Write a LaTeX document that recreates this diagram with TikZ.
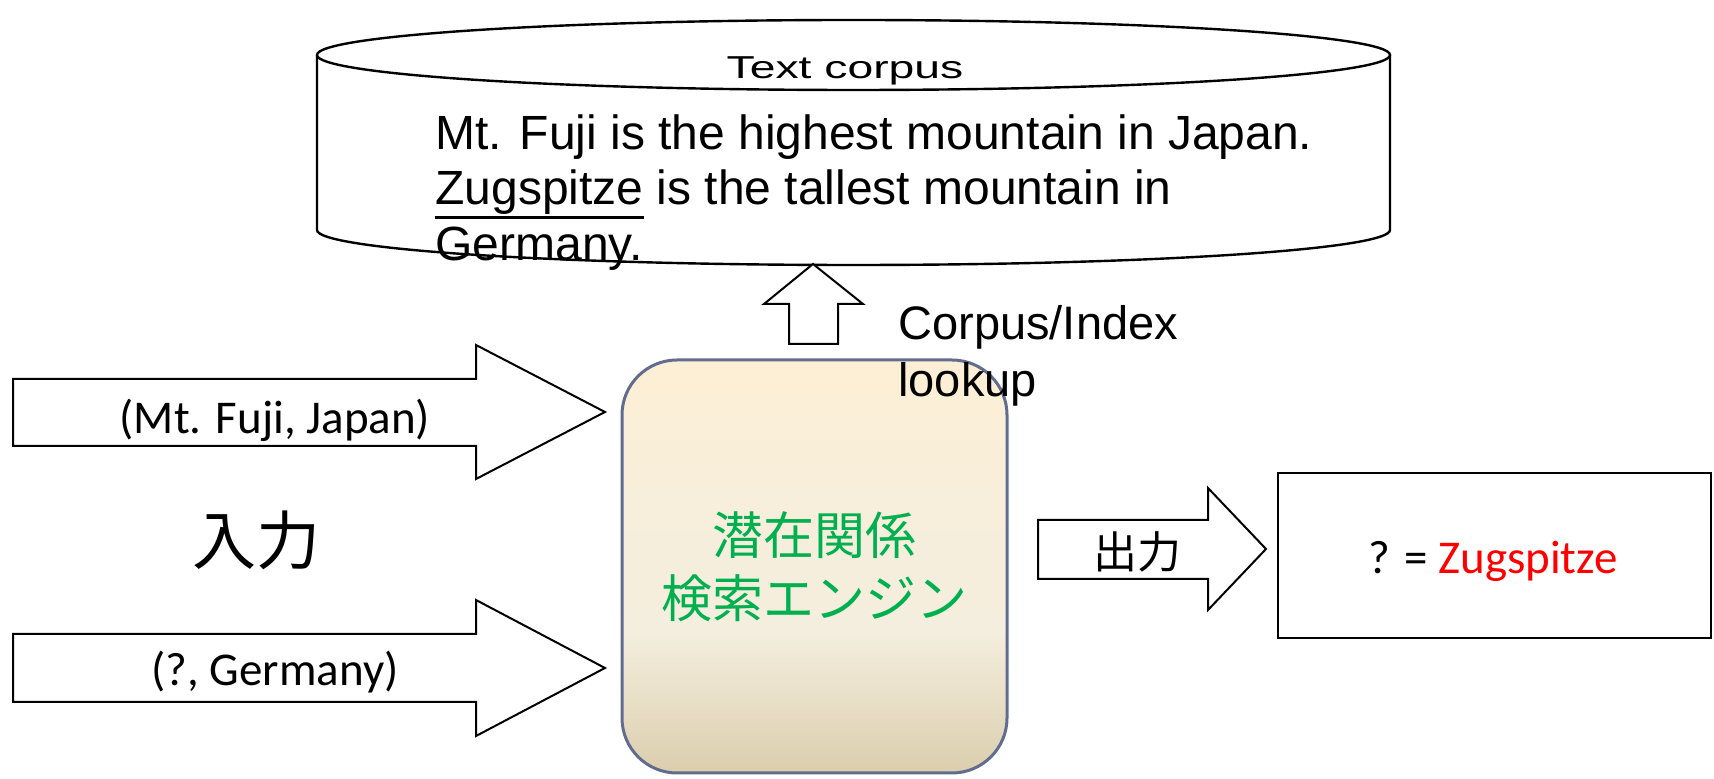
\documentclass[tikz,border=0pt]{standalone}
\usepackage{fontspec}
\usepackage{graphicx}
\setmainfont{Liberation Sans}
\newfontfamily\calib{Carlito}
\newfontfamily\jp{Noto Sans CJK JP}
\definecolor{enggreen}{RGB}{0,176,80}
\definecolor{engT}{RGB}{253,239,213}
\definecolor{engM}{RGB}{244,238,222}
\definecolor{engB}{RGB}{219,206,174}
\definecolor{engline}{RGB}{98,108,142}
\definecolor{ansred}{RGB}{255,0,0}
\pgfdeclareverticalshading{engshade}{100bp}{color(0bp)=(engB); color(25bp)=(engB); color(42bp)=(engM); color(60bp)=(engM!60!engT); color(75bp)=(engT); color(100bp)=(engT)}
\newcommand\hs[2]{\scalebox{#1}[1]{#2}}
\newcommand\myul[1]{\setbox0\hbox{#1}\rlap{\rule[-7pt]{\wd0}{1.4pt}}\box0{}}
\begin{document}
\begin{tikzpicture}[x=0.5pt,y=-0.5pt,
  outl/.style={draw=black,line width=1pt,line join=miter,fill=white},
  cyl/.style={draw=black,line width=1.2pt},
  txt/.style={inner sep=0pt,anchor=base},
  corpusfont/.style={font=\fontsize{24}{28}\selectfont},
  lookfont/.style={font=\fontsize{23.5}{28}\selectfont},
  calfont/.style={font=\calib\fontsize{23.5}{28}\selectfont},
  ansfont/.style={font=\calib\fontsize{23.5}{28}\selectfont}]
\useasboundingbox (0,0) rectangle (1714,779);

% text corpus cylinder
\draw[cyl] (317,55) -- (317,230) arc[start angle=180,end angle=0,x radius=536.5,y radius=35] -- (1390,55);
\draw[cyl] (853.5,55) ellipse[x radius=536.5,y radius=35];
\node[txt,font=\fontsize{15.85}{19}\selectfont] (tc) at (845,79) {\hs{1.46}{Text corpus}};
\node[txt,corpusfont,anchor=base west] (s1) at (435,150) {Mt. Fuji is the highest mountain in Japan.};
\node[txt,corpusfont,anchor=base west] (s2) at (435,205) {\myul{Zugspitze} is the tallest mountain in};
\node[txt,corpusfont,anchor=base west] (s3) at (435,261) {Germany.};

% up arrow
\coordinate (uptip) at (813,264);
\draw[outl] (uptip) -- (863,304) -- (838,304) -- (838,344) -- (789,344) -- (789,304) -- (764,304) -- cycle;

% engine
\node[shade,shading=engshade,draw=engline,line width=1.5pt,rounded corners=27.5pt,
      minimum width=192.5pt,minimum height=206.5pt,inner sep=0pt,
      font=\jp\fontsize{25.5}{31.5}\selectfont,text=enggreen,align=center] (eng) at (814.5,566.5) {潜在関係\\検索エンジン};

\node[txt,lookfont,anchor=base west] (lk1) at (898,340) {Corpus/Index};
\node[txt,lookfont,anchor=base west] (lk2) at (898,397) {lookup};

% input arrows
\coordinate (tip1) at (605,412);
\draw[outl] (13,379) -- (476,379) -- (476,345) -- (tip1) -- (476,479) -- (476,446) -- (13,446) -- cycle;
\node[txt,calfont] (in1) at (275,434) {(Mt. Fuji, Japan)};
\coordinate (tip2) at (605,668);
\draw[outl] (13,634) -- (476,634) -- (476,600) -- (tip2) -- (476,736) -- (476,702) -- (13,702) -- cycle;
\node[txt,calfont] (in2) at (275,686) {(?, Germany)};
\node[font=\jp\fontsize{32}{38}\selectfont] (inlab) at (256,540) {入力};

% output arrow
\coordinate (tip3) at (1266,549);
\draw[outl] (1038,520) -- (1208,520) -- (1208,488) -- (tip3) -- (1208,610) -- (1208,579) -- (1038,579) -- cycle;
\node[font=\jp\fontsize{22}{26}\selectfont] (outlab) at (1137,552) {出力};

% output box
\node[draw=black,line width=1pt,minimum width=216.5pt,minimum height=82.5pt,inner sep=0pt] (out) at (1494.5,555.5) {};
\node[txt,ansfont] (ans) at (1493,574) {? = \textcolor{ansred}{Zugspitze}};
\end{tikzpicture}
\end{document}
